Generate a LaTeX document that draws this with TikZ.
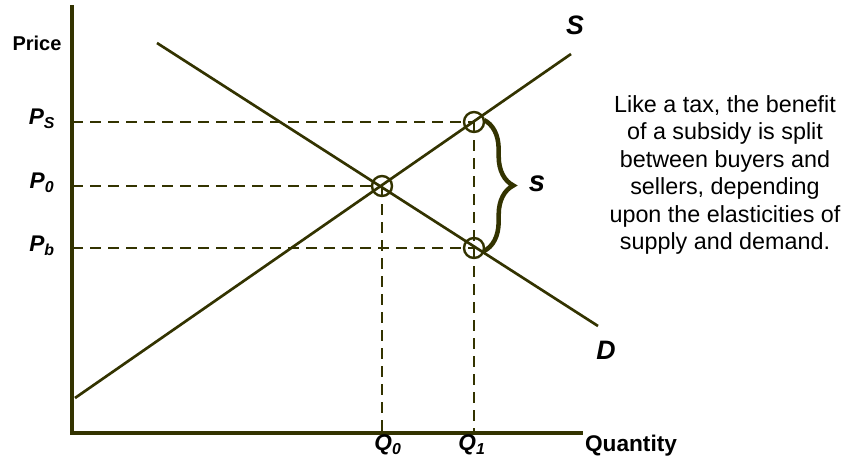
\documentclass[tikz,border=0pt]{standalone}
\usepackage{xcolor}
\usepackage{fontspec}
\setmainfont{Liberation Sans}
\usepackage{tikz}
\usetikzlibrary{decorations.pathreplacing}

\definecolor{graphol}{RGB}{51,51,0}

\begin{document}
\begin{tikzpicture}[
    x=0.75pt, y=-0.75pt,
    axis/.style={draw=graphol, line width=3.6pt},
    curve/.style={draw=graphol, line width=2pt},
    guide/.style={draw=graphol, line width=2pt, dash pattern=on 8.5pt off 5pt},
    eqpt/.style={circle, draw=graphol, line width=1.8pt, minimum size=15pt, inner sep=0pt},
    bracket/.style={draw=graphol, line width=3.4pt, decorate, decoration={brace, amplitude=22pt}},
    lbl/.style={font=\fontsize{17}{20}\selectfont\bfseries\itshape},
    axlbl/.style={font=\fontsize{15}{18}\selectfont\bfseries},
    note/.style={font=\fontsize{17.5}{20.6}\selectfont, align=center},
]
\useasboundingbox (0,0) rectangle (843,469);

% Axes
\coordinate (origin) at (72,433);
\coordinate (ytop) at (72,5);
\coordinate (xend) at (583,433);
\draw[axis] (ytop) -- (origin) -- (xend);

% Supply and demand
\coordinate (s1) at (75,398);
\coordinate (s2) at (571,54);
\coordinate (d1) at (157,43);
\coordinate (d2) at (598,326);
\draw[curve] (s1) -- (s2);
\draw[curve] (d1) -- (d2);

% Equilibrium points
\node[eqpt] (e0) at (382,186) {};
\node[eqpt] (es) at (474,122) {};
\node[eqpt] (eb) at (474,248) {};

\draw[guide] (origin |- es.center) -- (es.center);
\draw[guide] (origin |- e0.center) -- (e0.center);
\draw[guide] (origin |- eb.center) -- (eb.center);
\draw[guide] (e0.center) -- (e0.center |- origin);
\draw[guide] (es.center) -- (es.center |- origin);

% Subsidy bracket
\draw[bracket] (484,120) -- (484,251);
\node[lbl, font=\fontsize{22}{26}\selectfont\bfseries\itshape] (sub) at (537,184) {s};

% Labels
\node[axlbl] (price) at (37,43) {Price};
\node[lbl] (pslab) at (42,119) {P\textsubscript{S}};
\node[lbl] (p0lab) at (42,183) {P\textsubscript{0}};
\node[lbl] (pblab) at (42,246) {P\textsubscript{b}};
\node[lbl] (q0lab) at (388,445) {Q\textsubscript{0}};
\node[lbl] (q1lab) at (472,445) {Q\textsubscript{1}};
\node[font=\fontsize{17}{20}\selectfont\bfseries] (qty) at (631,446) {Quantity};
\node[lbl, font=\fontsize{20}{24}\selectfont\bfseries\itshape] (slab) at (575,25) {S};
\node[lbl, font=\fontsize{20}{24}\selectfont\bfseries\itshape] (dlab) at (606,350) {D};

% Comment
\node[note] (txt) at (725,175) {Like a tax, the benefit\\of a subsidy is split\\between buyers and\\sellers, depending\\upon the elasticities of\\supply and demand.};

\end{tikzpicture}
\end{document}
